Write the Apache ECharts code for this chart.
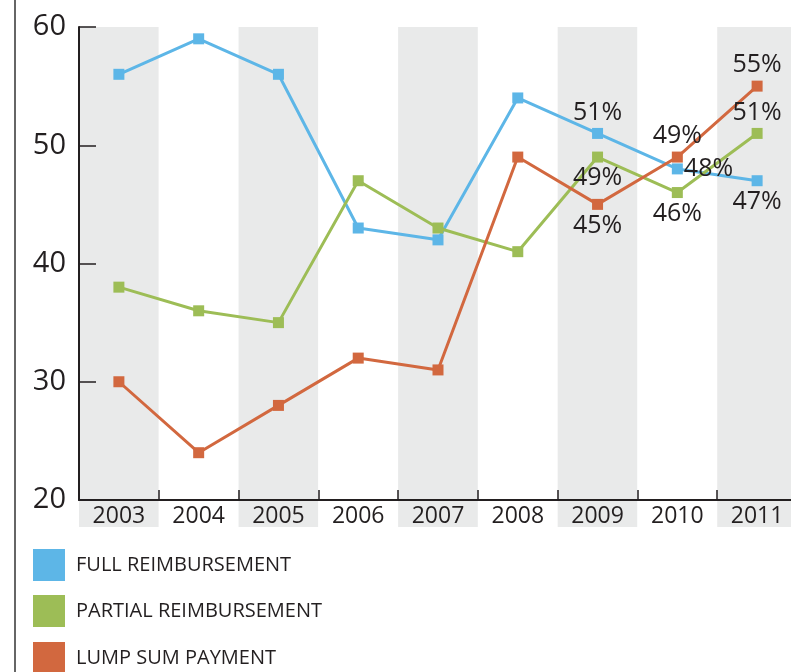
<!DOCTYPE html>
<html><head><meta charset="utf-8">
<script src="https://cdn.jsdelivr.net/npm/echarts@6/dist/echarts.min.js"></script>
<style>html,body{margin:0;padding:0;background:#fff;overflow:hidden}#c{width:797px;height:672px}</style>
</head><body><div id="c"></div>
<script>
const years = ['2003','2004','2005','2006','2007','2008','2009','2010','2011'];
const fullReimb = [56, 59, 56, 43, 42, 54, 51, 48, 47];
const partialReimb = [38, 36, 35, 47, 43, 41, 49, 46, 51];
const lumpSum = [30, 24, 28, 32, 31, 49, 45, 49, 55];
const yTicks = [20, 30, 40, 50, 60];
const names = ['FULL REIMBURSEMENT', 'PARTIAL REIMBURSEMENT', 'LUMP SUM PAYMENT'];

const colors = ['#5db6e7', '#9dbd56', '#d2683f'];
const labelPlacement = [
  {'2009':'top','2010':'right','2011':'bottom'},
  {'2009':'bottom','2010':'bottom','2011':'top'},
  {'2009':'bottom','2010':'top','2011':'top'}
];
const textColor = '#231f20';
const bandColors = ['#e9eaea', '#ffffff'];

function buildData(values, placement) {
  return values.map((v, i) => {
    const pos = placement[years[i]];
    if (!pos) return v;
    return {value: v, label: {show: true, position: pos, formatter: '{c}%', distance: pos === 'right' ? 1 : 3}};
  });
}

const chart = echarts.init(document.getElementById('c'), null, {renderer: 'canvas'});
const seriesVals = [fullReimb, partialReimb, lumpSum];
const legendTops = [549, 595, 642];
chart.setOption({
  animation: false,
  color: colors,
  textStyle: {fontFamily: 'Open Sans, sans-serif', color: textColor},
  graphic: [{type: 'line', shape: {x1: 15, y1: 0, x2: 15, y2: 672}, style: {stroke: '#333', lineWidth: 1.5}}],
  legend: names.map((n, k) => ({
    orient: 'vertical', left: 33, top: legendTops[k], itemWidth: 32, itemHeight: 32,
    icon: 'rect', data: [n], padding: 0,
    textStyle: {fontFamily: 'Open Sans, sans-serif', fontSize: 20, color: textColor, padding: [0,0,0,6]}
  })),
  grid: [
    {left: 79, right: 0, top: 27, height: 473},
    {left: 79, right: 0, top: 501, height: 26}
  ],
  xAxis: [
    {type: 'category', data: years, gridIndex: 0, boundaryGap: true,
     axisLine: {show: true, lineStyle: {color: textColor, width: 2}},
     axisTick: {show: true, inside: true, length: 10, lineStyle: {color: textColor, width: 1.5}},
     axisLabel: {margin: 5, fontSize: 23, color: textColor, fontFamily: 'Open Sans, sans-serif'},
     splitArea: {show: true, areaStyle: {color: bandColors}}},
    {type: 'category', data: years, gridIndex: 1, boundaryGap: true, z: -1,
     axisLine: {show: false}, axisTick: {show: false}, axisLabel: {show: false},
     splitArea: {show: true, areaStyle: {color: bandColors}}}
  ],
  yAxis: [
    {type: 'value', min: yTicks[0], max: yTicks[yTicks.length-1], interval: 10, gridIndex: 0,
     axisLine: {show: true, lineStyle: {color: textColor, width: 2}},
     axisTick: {show: true, inside: true, length: 17, lineStyle: {color: textColor, width: 1.5}},
     axisLabel: {margin: 13, fontSize: 29, color: textColor, fontFamily: 'Open Sans, sans-serif'},
     splitLine: {show: false}},
    {type: 'value', gridIndex: 1, show: false}
  ],
  series: seriesVals.map((vals, k) => ({
    name: names[k], type: 'line', xAxisIndex: 0, yAxisIndex: 0,
    data: buildData(vals, labelPlacement[k]),
    symbol: 'rect', symbolSize: 11,
    lineStyle: {width: 3, color: colors[k]},
    itemStyle: {color: colors[k]},
    label: {color: textColor, fontSize: 25, fontFamily: 'Open Sans, sans-serif'},
    z: 3
  }))
});
</script>
</body></html>
